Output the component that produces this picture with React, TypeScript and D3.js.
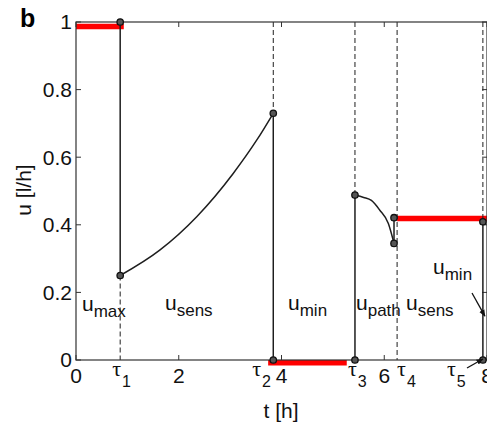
import React from "react";
import * as d3 from "d3";

// values
const xTicks = [0, 2, 4, 6, 8];
const yTicks = [0, 0.2, 0.4, 0.6, 0.8, 1];

const tauNames = ["1", "2", "3", "4", "5"];
const tauTimes = [0.86, 3.84, 5.43, 6.25, 7.92];

// u_sens arc between tau1 and tau2
const sensTimes = [0.86, 1.63, 2.35, 3.06, 3.52, 3.84];
const sensValues = [0.25, 0.325, 0.424, 0.552, 0.651, 0.73];

// u_path arc after tau3
const pathTimes = [5.43, 5.6, 5.75, 5.91, 6.08, 6.19];
const pathValues = [0.488, 0.481, 0.472, 0.444, 0.404, 0.345];

// solid vertical jumps
const jumpTimes = [0.86, 3.84, 5.43, 6.19, 7.92];
const jumpFrom = [1, 0.73, 0, 0.345, 0.409];
const jumpTo = [0.25, 0, 0.488, 0.421, 0];

// dashed guides at the switching times
const guideTimes = [0.86, 3.84, 5.43, 6.25, 7.92];
const guideFrom = [0.25, 1, 1, 1, 1];
const guideTo = [0, 0.73, 0.488, 0, 0.409];

// red bars (bang-bang parts)
const redStart = [0, 3.74, 6.25];
const redEnd = [0.93, 5.27, 8];
const redLevel = [0.987, -0.008, 0.419];

// switching point markers
const dotTimes = [0.86, 0.86, 3.84, 3.84, 5.43, 5.43, 6.19, 6.19, 7.92, 7.92];
const dotValues = [1, 0.25, 0.73, 0, 0, 0.488, 0.345, 0.421, 0.409, 0];

const regionSubs = ["max", "sens", "min", "path", "sens", "min"];

const width = 487;
const height = 428;
const sans = "'Liberation Sans', Arial, Helvetica, sans-serif";

const App = () => {
  const x = d3.scaleLinear().domain([0, 8]).range([76, 487]);
  const y = d3.scaleLinear().domain([0, 1]).range([360, 22]);

  const line = d3
    .line<number>()
    .x((d) => d)
    .y((d) => d)
    .curve(d3.curveMonotoneX);

  const sensPath = d3
    .line<number>()
    .x((d, i) => x(sensTimes[i]))
    .y((d) => y(d))
    .curve(d3.curveMonotoneX)(sensValues);

  const pathPath = d3
    .line<number>()
    .x((d, i) => x(pathTimes[i]))
    .y((d) => y(d))
    .curve(d3.curveMonotoneX)(pathValues);

  const ink = "#1e1e1e";
  const tickLen = 5;

  // label spots for the region names (text only)
  const regionPos = [
    [82, 311],
    [165, 310],
    [288, 310],
    [356, 310],
    [406, 310],
    [433, 274],
  ];
  const tauLabelShift = [-8, -21, -7, 0, -36];

  return (
    <svg
      width={width}
      height={height}
      style={{ position: "absolute", left: 0, top: 0, background: "#fff" }}
      fontFamily={sans}
    >
      <defs>
        <marker
          id="arrow"
          viewBox="0 0 10 10"
          refX="9"
          refY="5"
          markerWidth="7"
          markerHeight="7"
          orient="auto"
          markerUnits="userSpaceOnUse"
        >
          <path d="M0,1 L10,5 L0,9 Z" fill="#111" />
        </marker>
      </defs>

      {/* panel letter */}
      <text x={20} y={27} fontSize={25} fontWeight="bold" fill="#000">
        b
      </text>

      {/* red bars */}
      {redStart.map((s, i) => (
        <line
          key={"r" + i}
          x1={x(s)}
          x2={x(redEnd[i])}
          y1={y(redLevel[i])}
          y2={y(redLevel[i])}
          stroke="#ff0000"
          strokeWidth={5.5}
        />
      ))}

      {/* dashed guides */}
      {guideTimes.map((t, i) => (
        <line
          key={"g" + i}
          x1={x(t)}
          x2={x(t)}
          y1={y(guideFrom[i])}
          y2={y(guideTo[i])}
          stroke={ink}
          strokeWidth={1}
          strokeDasharray="5,3"
        />
      ))}

      {/* axes box */}
      <rect
        x={x(0)}
        y={y(1)}
        width={x(8) - x(0)}
        height={y(0) - y(1)}
        fill="none"
        stroke="#333"
        strokeWidth={1.2}
      />
      {xTicks.map((t) => (
        <g key={"xt" + t}>
          <line x1={x(t)} x2={x(t)} y1={y(0)} y2={y(0) - tickLen} stroke="#333" />
          <line x1={x(t)} x2={x(t)} y1={y(1)} y2={y(1) + tickLen} stroke="#333" />
          <text x={x(t)} y={383} fontSize={21} textAnchor="middle" fill="#111">
            {t}
          </text>
        </g>
      ))}
      {yTicks.map((v) => (
        <g key={"yt" + v}>
          <line x1={x(0)} x2={x(0) + tickLen} y1={y(v)} y2={y(v)} stroke="#333" />
          <line x1={x(8)} x2={x(8) - tickLen} y1={y(v)} y2={y(v)} stroke="#333" />
          <text x={72} y={y(v)} dy="0.35em" fontSize={21} textAnchor="end" fill="#111">
            {v}
          </text>
        </g>
      ))}

      {/* tau labels */}
      {tauTimes.map((t, i) => (
        <text key={"tau" + i} x={x(t) + tauLabelShift[i]} y={376} fill="#111">
          <tspan fontFamily="'Liberation Serif', 'Times New Roman', serif" fontSize={22}>
            τ
          </tspan>
          <tspan fontSize={16} dy={11} dx={1}>
            {tauNames[i]}
          </tspan>
        </text>
      ))}

      {/* curves */}
      <path d={sensPath || ""} fill="none" stroke={ink} strokeWidth={1.5} />
      <path d={pathPath || ""} fill="none" stroke={ink} strokeWidth={1.5} />
      {jumpTimes.map((t, i) => (
        <line
          key={"j" + i}
          x1={x(t)}
          x2={x(t)}
          y1={y(jumpFrom[i])}
          y2={y(jumpTo[i])}
          stroke={ink}
          strokeWidth={1.5}
        />
      ))}

      {dotTimes.map((t, i) => (
        <circle
          key={"d" + i}
          cx={x(t)}
          cy={y(dotValues[i])}
          r={3.2}
          fill="#555"
          stroke="#111"
          strokeWidth={1.3}
        />
      ))}

      {/* region names */}
      {regionSubs.map((s, i) => (
        <text key={"u" + i} x={regionPos[i][0]} y={regionPos[i][1]} fill="#111" fontSize={21}>
          u
          <tspan fontSize={17} dy={6}>
            {s}
          </tspan>
        </text>
      ))}

      {/* arrows */}
      <line
        x1={472}
        y1={293}
        x2={x(7.92) + 2}
        y2={y(0.13)}
        stroke="#111"
        strokeWidth={1.3}
        markerEnd="url(#arrow)"
      />
      <line
        x1={467}
        y1={368}
        x2={x(7.92)}
        y2={y(0) - 1}
        stroke="#111"
        strokeWidth={1.3}
        markerEnd="url(#arrow)"
      />

      {/* axis titles */}
      <text x={281} y={418} fontSize={21} textAnchor="middle" fill="#111">
        t [h]
      </text>
      <text
        transform="translate(31,190) rotate(-90)"
        fontSize={21}
        textAnchor="middle"
        fill="#111"
      >
        u [l/h]
      </text>
    </svg>
  );
};

export default App;
